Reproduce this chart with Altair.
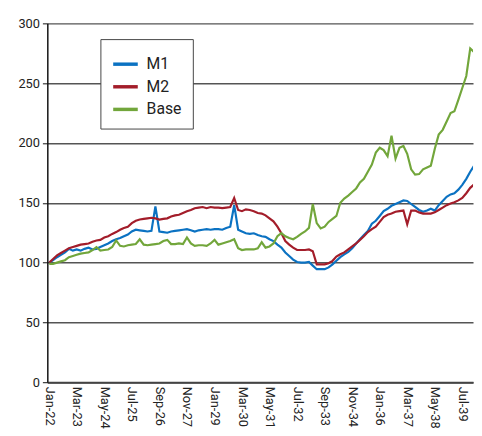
import altair as alt
import pandas as pd

# months since Jan-22, every 2 months
month_index = list(range(0, 217, 2))

m1 = [100, 102, 104.5, 106.5, 108.5, 111.5, 110, 111, 110, 111.5,
      112.5, 111, 111.5, 113, 114.5, 116, 118, 119.5, 120.5, 122,
      123.5, 126, 127.5, 127, 126.5, 126, 126.5, 147, 126, 125.5,
      125, 126, 126.5, 127, 127.5, 128, 127, 126, 127, 127.5,
      128, 127.5, 128, 128, 127.5, 129, 130, 148, 127.5, 126,
      124.5, 124, 124.5, 123, 122, 121.5, 119.5, 118, 115, 112.5,
      108.5, 105.5, 102.5, 100.5, 100, 100, 100.5, 97.5, 94.5, 94.5,
      94.5, 96, 98.5, 101.5, 104.5, 106.8, 109, 112, 116, 119.5,
      123, 126.5, 132.5, 135, 139, 143, 145, 147.5, 149, 150.5,
      152, 151.5, 149, 146.5, 144, 142.5, 143.5, 145, 143.5, 148,
      151.5, 155, 157, 158, 161, 165, 170, 176, 181]

m2 = [100, 103, 106, 108, 110, 112, 113, 114, 115, 115.5,
      116, 117.5, 118.5, 119, 121, 122, 124, 125.5, 127.5, 129,
      130, 133, 135, 136, 136.5, 137, 137.5, 137, 136, 136.5,
      137, 138.5, 139.5, 140, 141.5, 143, 144, 145.5, 146, 146.5,
      145.5, 146.5, 146, 146, 145.5, 146, 146.5, 154, 144, 143,
      144.5, 144, 143, 141.5, 141, 139.5, 137, 134.5, 130, 124.5,
      118, 115, 112.5, 110.5, 110.5, 110.5, 111, 109.5, 98.5, 98.5,
      98.5, 99.5, 101.5, 105, 107, 108.5, 111, 113.5, 116, 119,
      122, 125.5, 128, 130, 134, 138, 140, 141, 142.5, 143,
      143.5, 132, 143.5, 143.5, 142, 141, 141, 141, 142, 144,
      146, 148, 149.5, 150.5, 152, 154, 158, 162.5, 165.5]

base = [99, 99, 100, 101, 102, 104.5, 105.5, 106.5, 107.5, 108,
        108.5, 110.5, 113, 110, 110.5, 111, 113, 118.5, 114, 113.5,
        114.5, 115, 115.5, 119.5, 115, 114.5, 115, 115.5, 116, 118,
        119, 115.5, 115.5, 116, 115.5, 121, 116, 114, 114.5, 114.5,
        114, 116, 119, 115, 116, 117, 118, 119.5, 112, 110.5,
        111, 111, 111, 112, 117, 112.5, 113.5, 116, 122, 124.7,
        122, 120.5, 119.5, 121.5, 124, 126, 129, 149, 133, 128.5,
        130, 134, 136.5, 139, 150, 153.5, 156, 159, 162, 167,
        170, 176, 182, 192, 196, 194, 189, 206, 187, 196,
        197.5, 191, 178, 173.5, 174, 178, 179.5, 181, 195, 207,
        211, 218, 225, 226.5, 236, 246, 256, 279, 276]

series_names = ["M1", "M2", "Base"]
series_colors = ["#0b72c2", "#a31d2a", "#72a63b"]

tick_months = list(range(0, 211, 14))


def month_date(m):
    y = 2022 + m // 12
    mo = m % 12 + 1
    return f"{y:04d}-{mo:02d}-01T00:00:00"


dates = [month_date(m) for m in month_index]
rows = []
for name, vals in zip(series_names, [m1, m2, base]):
    for d, v in zip(dates, vals):
        rows.append({"date": d, "value": v, "series": name})
df = pd.DataFrame(rows)

tick_values = [alt.DateTime(year=2022 + m // 12, month=m % 12 + 1, date=1) for m in tick_months]

FONT = "Roboto"

chart = alt.Chart(df).mark_line(strokeWidth=2.2, clip=True).encode(
    x=alt.X(
        "date:T",
        scale=alt.Scale(domain=[alt.DateTime(year=2021, month=12, date=2),
                                alt.DateTime(year=2039, month=12, date=14)]),
        axis=alt.Axis(
            title=None, values=tick_values, format="%b-%y", labelAngle=90,
            labelAlign="left", labelBaseline="middle", labelPadding=4,
            ticks=False, grid=False, labelOverlap=False, labelFlush=False,
            domainColor="#444444", domainWidth=2,
        ),
    ),
    y=alt.Y(
        "value:Q",
        scale=alt.Scale(domain=[0, 300], nice=False),
        axis=alt.Axis(
            title=None, values=[0, 50, 100, 150, 200, 250, 300],
            grid=True, gridColor="#555555", gridWidth=1.5,
            domainColor="#111111", domainWidth=1.5,
            tickColor="#111111", tickSize=5, labelPadding=3,
        ),
    ),
    color=alt.Color(
        "series:N",
        scale=alt.Scale(domain=series_names, range=series_colors),
        legend=alt.Legend(
            title=None, orient="none", legendX=54, legendY=16,
            fillColor="white", strokeColor="#444444", padding=11,
            symbolType="stroke", symbolStrokeWidth=3.5, symbolSize=625,
            labelFontSize=16, labelFont=FONT, labelColor="#222222",
            rowPadding=0, labelOffset=7,
        ),
    ),
    order=alt.Order("date:T"),
).properties(
    width=433,
    height=365,
    padding={"left": 40, "top": 12, "right": 1, "bottom": 47},
    autosize=alt.AutoSizeParams(type="none"),
).configure_view(
    stroke=None
).configure_axis(
    labelFont=FONT, labelFontSize=13, labelColor="#222222",
)

chart.save("out.html", embed_options={"renderer": "svg", "actions": False})
